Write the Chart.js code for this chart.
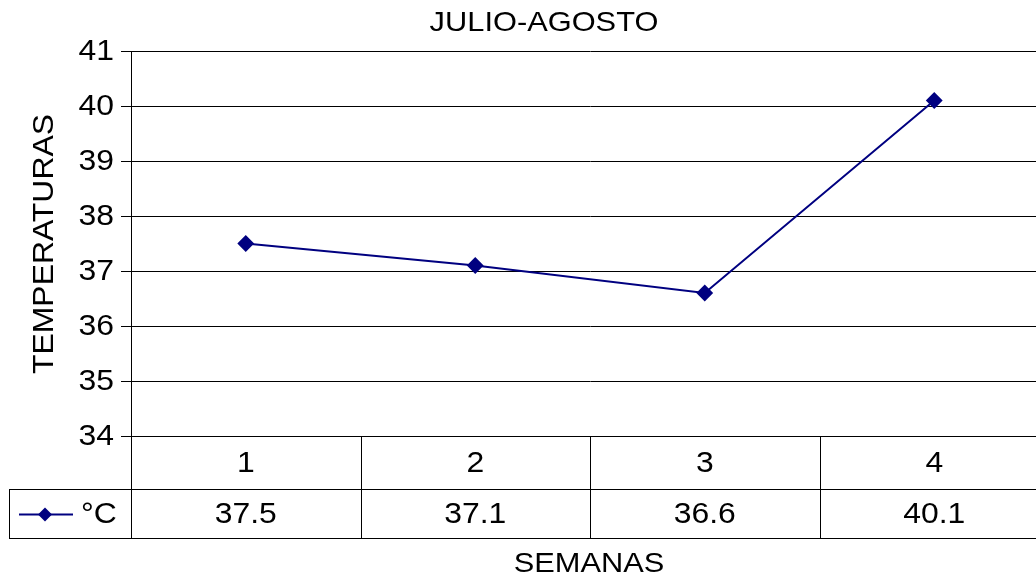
<!DOCTYPE html>
<html>
<head>
<meta charset="utf-8">
<script src="https://cdn.jsdelivr.net/npm/chart.js@4"></script>
<style>
  html, body { margin: 0; padding: 0; background: #fff; overflow: hidden; }
  #wrap { width: 1036px; height: 584px; overflow: hidden; }
  #wrap canvas { display: block; }
</style>
</head>
<body>
<div id="wrap"><canvas id="chart" width="1058" height="584"></canvas></div>
<script>
// chart data
const semanas = ['1', '2', '3', '4'];
const temperaturas = [37.5, 37.1, 36.6, 40.1];
const serieLabel = '°C';
const titulo = 'JULIO-AGOSTO';
const tituloX = 'SEMANAS';
const tituloY = 'TEMPERATURAS';

const FONT = 'Arial, "Liberation Sans", sans-serif';
const NAVY = '#000080';
const STRETCH = 1.1;   // the original text is a little wider than Arial

function wideText(ctx, text, x, y, size, align, rot) {
    ctx.save();
    ctx.translate(x, y);
    if (rot) ctx.rotate(rot);
    ctx.scale(STRETCH, 1);
    ctx.font = size + 'px ' + FONT;
    ctx.textAlign = align || 'center';
    ctx.textBaseline = 'middle';
    ctx.fillStyle = '#000';
    ctx.fillText(text, 0, 0);
    ctx.restore();
}

// titles, y tick labels and the Excel style data table
const tablePlugin = {
    id: 'dataTable',
    afterDraw(chart) {
        const ctx = chart.ctx;
        const x = chart.scales.x;
        const y = chart.scales.y;
        const area = chart.chartArea;
        const row1 = area.bottom + 53;
        const row2 = area.bottom + 102;
        const half = (x.getPixelForValue(1) - x.getPixelForValue(0)) / 2;
        const legLeft = 9;

        wideText(ctx, titulo, 544, 23, 28);
        wideText(ctx, tituloX, 589, 564, 28);
        wideText(ctx, tituloY, 45, 244, 29, 'center', -Math.PI / 2);

        y.ticks.forEach(t => {
            wideText(ctx, String(t.value), 114, y.getPixelForValue(t.value) + 1, 29, 'right');
        });

        ctx.save();
        ctx.strokeStyle = '#000';
        ctx.lineWidth = 1;
        ctx.beginPath();
        ctx.moveTo(area.left + 0.5, area.bottom);
        ctx.lineTo(area.left + 0.5, row2);
        ctx.moveTo(legLeft, row1 + 0.5);
        ctx.lineTo(area.right, row1 + 0.5);
        ctx.moveTo(legLeft, row2 + 0.5);
        ctx.lineTo(area.right, row2 + 0.5);
        ctx.moveTo(legLeft + 0.5, row1);
        ctx.lineTo(legLeft + 0.5, row2);
        semanas.forEach((s, i) => {
            const bx = Math.round(x.getPixelForValue(i) + half) + 0.5;
            ctx.moveTo(bx, area.bottom);
            ctx.lineTo(bx, row2);
        });
        ctx.stroke();
        ctx.restore();

        semanas.forEach((s, i) => {
            const cx = x.getPixelForValue(i);
            wideText(ctx, s, cx, (area.bottom + row1) / 2 + 1, 29);
            wideText(ctx, temperaturas[i].toFixed(1), cx, (row1 + row2) / 2 + 1, 29);
        });

        // legend key in the first cell
        const ly = Math.round((row1 + row2) / 2) + 0.5;
        ctx.save();
        ctx.strokeStyle = NAVY;
        ctx.lineWidth = 2;
        ctx.beginPath();
        ctx.moveTo(19, ly);
        ctx.lineTo(73, ly);
        ctx.stroke();
        ctx.fillStyle = NAVY;
        ctx.beginPath();
        ctx.moveTo(45, ly - 7);
        ctx.lineTo(52, ly);
        ctx.lineTo(45, ly + 7);
        ctx.lineTo(38, ly);
        ctx.closePath();
        ctx.fill();
        ctx.restore();
        wideText(ctx, serieLabel, 81, (row1 + row2) / 2 + 1, 29, 'left');
    }
};

new Chart(document.getElementById('chart'), {
    type: 'line',
    data: {
        labels: semanas,
        datasets: [{
            label: serieLabel,
            data: temperaturas,
            borderColor: NAVY,
            backgroundColor: NAVY,
            borderWidth: 2,
            pointStyle: 'rectRot',
            pointRadius: 7,
            pointHoverRadius: 7,
            tension: 0
        }]
    },
    options: {
        responsive: false,
        animation: false,
        layout: { padding: { top: 51, left: 0, right: 0, bottom: 0 } },
        plugins: {
            legend: { display: false },
            tooltip: { enabled: false }
        },
        scales: {
            x: {
                type: 'category',
                offset: true,
                grid: { display: false, drawTicks: false },
                border: { display: false },
                ticks: { display: false },
                afterFit(scale) { scale.height = 148; }
            },
            y: {
                min: 34,
                max: 41,
                ticks: {
                    stepSize: 1,
                    color: 'rgba(0,0,0,0)',
                    font: { family: FONT, size: 29 }
                },
                grid: { color: '#000', lineWidth: 1, tickLength: 10 },
                border: { color: '#000' },
                afterFit(scale) { scale.width = 131; }
            }
        }
    },
    plugins: [tablePlugin]
});
</script>
</body>
</html>
